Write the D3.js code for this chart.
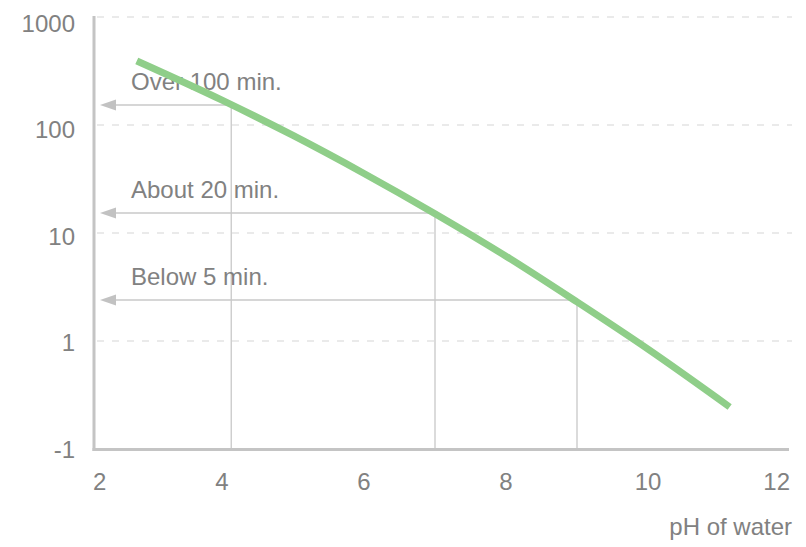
<!DOCTYPE html>
<html>
<head>
<meta charset="utf-8">
<script src="https://cdn.jsdelivr.net/npm/d3@7"></script>
<style>
  html, body { margin: 0; padding: 0; background: #fff; }
  svg { display: block; }
  text { font-family: "Helvetica Neue", Helvetica, Arial, "Liberation Sans", sans-serif; fill: #818181; }
</style>
</head>
<body>
<svg id="chart" width="806" height="547"></svg>
<script>
// ---- data ----
const curvePH      = [2.8, 4, 5, 6, 7, 8, 9, 10, 11.15];
const curveMinutes = [392, 170, 80, 35.6, 15.1, 6.1, 2.3, 0.84, 0.245];

const markerPH      = [4.13, 7.0, 9.0];
const markerMinutes = [153, 15.3, 2.4];
const markerLabels  = ["Over 100 min.", "About 20 min.", "Below 5 min."];

const xTickValues = [2, 4, 6, 8, 10, 12];
const xTickLabels = ["2", "4", "6", "8", "10", "12"];
const yTickValues = [1000, 100, 10, 1, 0.1];
const yTickLabels = ["1000", "100", "10", "1", "-1"];
const xTitle = "pH of water";

// ---- layout ----
const svg = d3.select("#chart");
const axisLeft = 94, axisBottom = 449.5, plotRight = 790;
const FS = 24;

const x = d3.scaleLinear().domain([2, 12]).range([80, 790]);
const y = d3.scaleLog().domain([0.1, 1000]).range([449, 17]);
// tick labels sit on a slightly compressed copy of the y range
const yLabel = d3.scaleLog().domain([0.1, 1000]).range([449, 23]);

// gridlines
svg.append("g").selectAll("line")
  .data(yTickValues.filter(v => v > 0.1))
  .join("line")
  .attr("x1", axisLeft + 3).attr("x2", plotRight + 2)
  .attr("y1", d => y(d)).attr("y2", d => y(d))
  .attr("stroke", "#e3e3e3").attr("stroke-width", 1.6)
  .attr("stroke-dasharray", "7,8");

// y tick labels
svg.append("g").selectAll("text")
  .data(yTickValues)
  .join("text")
  .attr("x", 75)
  .attr("y", d => yLabel(d) + 8.5)
  .attr("text-anchor", "end")
  .attr("font-size", FS)
  .text((d, i) => yTickLabels[i]);

// x tick labels
svg.append("g").selectAll("text")
  .data(xTickValues)
  .join("text")
  .attr("x", (d, i) => i === 0 ? axisLeft - 1 : x(d))
  .attr("y", 490)
  .attr("text-anchor", (d, i) => i === 0 ? "start" : (i === xTickValues.length - 1 ? "end" : "middle"))
  .attr("font-size", FS)
  .text((d, i) => xTickLabels[i]);

// x title
svg.append("text")
  .attr("x", 792).attr("y", 535)
  .attr("text-anchor", "end")
  .attr("font-size", FS)
  .text(xTitle);

// marker guide lines
const mk = svg.append("g");
markerPH.forEach((ph, i) => {
  const mx = x(ph), my = y(markerMinutes[i]);
  mk.append("line")
    .attr("x1", mx).attr("x2", mx)
    .attr("y1", my).attr("y2", axisBottom)
    .attr("stroke", "#c8c8c8").attr("stroke-width", 1.3);
  mk.append("line")
    .attr("x1", mx).attr("x2", 104)
    .attr("y1", my).attr("y2", my)
    .attr("stroke", "#c8c8c8").attr("stroke-width", 1.6);
  mk.append("path")
    .attr("d", `M100,${my} L116,${my - 5.5} L116,${my + 5.5} Z`)
    .attr("fill", "#c2c2c2");
  mk.append("text")
    .attr("x", 131).attr("y", my - 15)
    .attr("font-size", FS)
    .text(markerLabels[i]);
});

// axes lines
svg.append("line")
  .attr("x1", axisLeft).attr("x2", axisLeft)
  .attr("y1", 16).attr("y2", axisBottom + 1.5)
  .attr("stroke", "#c4c4c4").attr("stroke-width", 3);
svg.append("line")
  .attr("x1", axisLeft - 1.5).attr("x2", 789)
  .attr("y1", axisBottom).attr("y2", axisBottom)
  .attr("stroke", "#c4c4c4").attr("stroke-width", 3);

// curve
const line = d3.line()
  .x((d, i) => x(curvePH[i]))
  .y((d, i) => y(curveMinutes[i]))
  .curve(d3.curveMonotoneX);
svg.append("path")
  .datum(curveMinutes)
  .attr("d", line)
  .attr("fill", "none")
  .attr("stroke", "#8fce89")
  .attr("stroke-width", 7);
</script>
</body>
</html>
